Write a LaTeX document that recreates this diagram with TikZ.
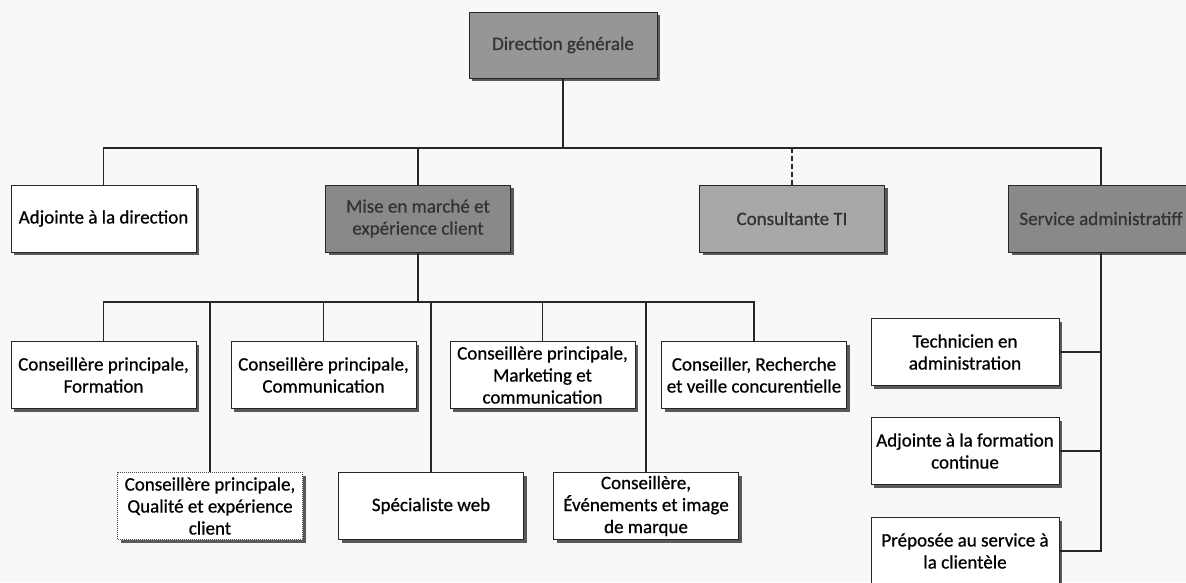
\documentclass[tikz,border=0pt]{standalone}
\usepackage{fontspec}
\setmainfont{Carlito}
\newfontfamily\postfont{Carlito}[FakeBold=0.7]
\usetikzlibrary{shadows}

\definecolor{dirfill}{HTML}{969696}
\definecolor{unitfill}{HTML}{898989}
\definecolor{tifill}{HTML}{A8A8A8}
\definecolor{paper}{HTML}{F8F8F8}

\tikzset{
  post/.style={draw=black!85, line width=0.8pt, fill=white, align=center,
    minimum width=185pt, minimum height=67pt, inner sep=1pt,
    font=\postfont\fontsize{19}{22}\selectfont,
    drop shadow={shadow xshift=3pt, shadow yshift=-3pt, fill=black!65, opacity=1}},
  unit/.style={post, fill=unitfill, text=black!80},
  link/.style={line width=1.1pt, draw=black!85},
}

\begin{document}
\begin{tikzpicture}[x=1pt, y=-1pt]
      \fill[paper] (0,0) rectangle (1186,582);
      \useasboundingbox (0,0) rectangle (1186,582);

      % direction et premier niveau
      \node[unit, fill=dirfill, minimum width=188pt, minimum height=66pt] (dir) at (563,45) {Direction générale};
      \node[post] (adj) at (103.5,218.5) {Adjointe à la direction};
      \node[unit] (mise) at (418,218.5) {Mise en marché et\\expérience client};
      \node[unit, fill=tifill] (cons) at (792,218.5) {Consultante TI};
      \node[unit] (serv) at (1101,218.5) {Service administratiff};

      \coordinate (bar1) at (563,148);
      \draw[link] (dir) -- (bar1);
      \draw[link] (adj.north) |- (bar1) -| (serv.north);
      \draw[link] (mise.north) -- (mise.north |- bar1);
      \draw[link, dash pattern=on 5pt off 3pt] (cons.north) -- (cons.north |- bar1);

      % mise en marche
      \node[post] (form) at (103.5,375) {Conseillère principale,\\Formation};
      \node[post] (comm) at (323.5,375) {Conseillère principale,\\Communication};
      \node[post] (mark) at (542.5,375) {Conseillère principale,\\Marketing et\\communication};
      \node[post] (rech) at (754,375) {Conseiller, Recherche\\et veille concurentielle};
      \node[post, draw=black!70, line width=0.5pt, dash pattern=on 1pt off 1pt] (qual) at (210,506) {Conseillère principale,\\Qualité et expérience\\client};
      \node[post] (web) at (431,506) {Spécialiste web};
      \node[post] (even) at (646,506) {Conseillère,\\Événements et image\\de marque};

      \coordinate (bar2) at (418,302);
      \draw[link] (mise) -- (bar2);
      \draw[link] (form.north) |- (bar2) -| (rech.north);
      \foreach \n in {comm,mark,qual,web,even}
        \draw[link] (\n.north) -- (\n.north |- bar2);

      % service administratif
      \node[post, minimum width=188pt] (tech) at (965,352) {Technicien en\\administration};
      \node[post, minimum width=188pt] (adjf) at (965,451) {Adjointe à la formation\\continue};
      \node[post, minimum width=188pt] (prep) at (965,551) {Préposée au service à\\la clientèle};

      \coordinate (sbot) at (1101,551);
      \draw[link] (serv) -- (sbot) -- (prep.east);
      \draw[link] (tech.east) -- (tech.east -| sbot);
      \draw[link] (adjf.east) -- (adjf.east -| sbot);
\end{tikzpicture}
\end{document}
